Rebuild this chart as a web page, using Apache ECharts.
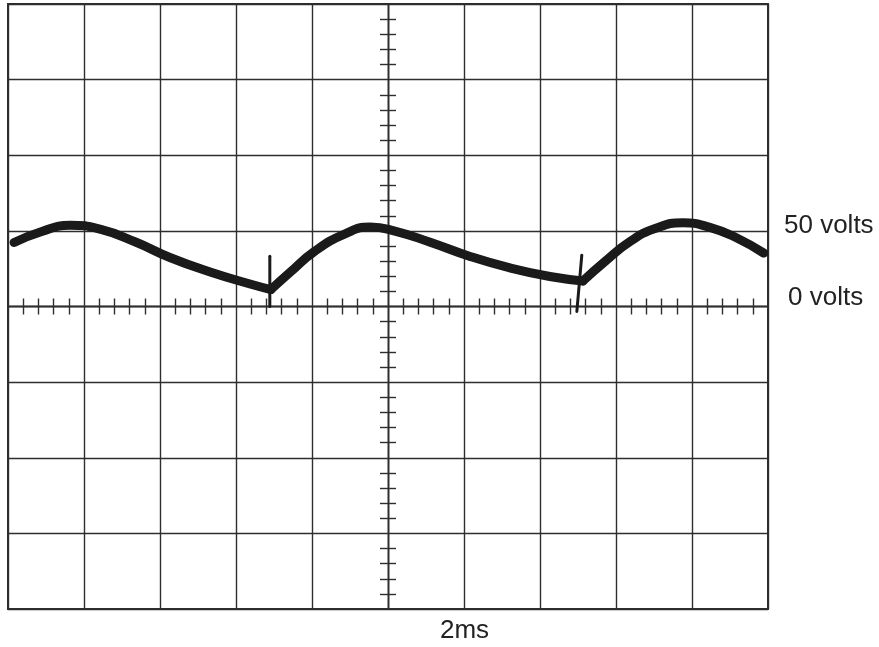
<!DOCTYPE html>
<html>
<head>
<meta charset="utf-8">
<title>Oscilloscope trace</title>
<script src="https://cdn.jsdelivr.net/npm/echarts@6/dist/echarts.min.js"></script>
<style>
  html, body { margin: 0; padding: 0; background: #fff; }
  #main { width: 879px; height: 647px; }
</style>
</head>
<body>
<div id="main"></div>
<script>
// time in ms (0 = centre of screen), voltage in volts; 2 ms and 50 V per division
var seg1Time = [-9.84, -9.11, -8.37, -7.58, -6.66, -5.74, -4.68, -3.63, -3.08];
var seg1Volts = [42.3, 49.6, 53.7, 51.1, 42.8, 32.4, 22.8, 14.9, 11.2];

var seg2Time = [-3.08, -2.58, -1.92, -1.13, -0.47, 0.18, 1.11, 2.16, 3.21, 4.26, 5.13];
var seg2Volts = [11.2, 22.5, 36.7, 48.0, 52.6, 49.9, 42.5, 33.1, 25.5, 19.8, 16.9];

var seg3Time = [5.13, 5.71, 6.37, 7.03, 7.76, 8.47, 9.18, 9.89];
var seg3Volts = [16.9, 29.8, 43.0, 51.6, 55.4, 52.3, 45.3, 35.3];

// the two short trigger marks
var spike1Time = [-3.11, -3.11];
var spike1Volts = [33.3, 0];
var spike2Time = [5.10, 4.97];
var spike2Volts = [33.9, -3.3];

var voltLabels = ['50 volts', '0 volts'];
var timeLabel = '2ms';

function pairs(xs, ys) {
  return xs.map(function (x, i) { return [x, ys[i]]; });
}

var gridColor = '#2e2e2e';
var traceColor = '#1a1a1a';

function centreAxis(pos, isX) {
  return {
    type: 'value',
    position: pos,
    min: isX ? -10 : -200,
    max: isX ? 10 : 200,
    interval: isX ? 2 : 50,
    axisLine: { show: true, onZero: true, onZeroAxisIndex: 0, lineStyle: { color: gridColor, width: 1.4 } },
    axisTick: { show: false },
    minorTick: { show: true, splitNumber: 5, length: 8, lineStyle: { color: gridColor, width: 1.4 } },
    axisLabel: { show: false },
    splitLine: { show: false }
  };
}

var xMain = centreAxis('bottom', true);
xMain.splitLine = { show: true, lineStyle: { color: gridColor, width: 1.4 } };
var yMain = centreAxis('left', false);
yMain.splitLine = { show: true, lineStyle: { color: gridColor, width: 1.4 } };

function trace(data, width) {
  return {
    type: 'line',
    data: data,
    smooth: width > 4 ? 0.5 : false,
    showSymbol: false,
    symbol: 'none',
    silent: true,
    lineStyle: { color: traceColor, width: width, cap: 'round', join: 'round' }
  };
}

var myChart = echarts.init(document.getElementById('main'));
var option = {
  animation: false,
  backgroundColor: '#fff',
  grid: {
    left: 8, top: 4, width: 760, height: 605,
    show: true, borderColor: gridColor, borderWidth: 2, backgroundColor: 'transparent'
  },
  xAxis: [xMain, centreAxis('top', true)],
  yAxis: [yMain, centreAxis('right', false)],
  series: [
    trace(pairs(seg1Time, seg1Volts), 9),
    trace(pairs(seg2Time, seg2Volts), 9),
    trace(pairs(seg3Time, seg3Volts), 9),
    trace(pairs(spike1Time, spike1Volts), 3),
    trace(pairs(spike2Time, spike2Volts), 3)
  ],
  graphic: [
    { type: 'text', left: 784, top: 213, style: { text: voltLabels[0], font: '26px "Liberation Sans", Arial, sans-serif', fill: '#222' } },
    { type: 'text', left: 788, top: 285, style: { text: voltLabels[1], font: '26px "Liberation Sans", Arial, sans-serif', fill: '#222' } },
    { type: 'text', left: 440, top: 618, style: { text: timeLabel, font: '26px "Liberation Sans", Arial, sans-serif', fill: '#222' } }
  ]
};
myChart.setOption(option);
</script>
</body>
</html>
